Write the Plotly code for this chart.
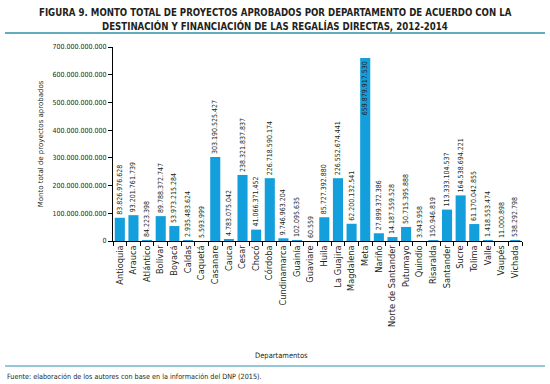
import plotly.graph_objects as go

departamentos = ["Antioquia", "Arauca", "Atlántico", "Bolívar", "Boyacá", "Caldas", "Caquetá",
                 "Casanare", "Cauca", "Cesar", "Chocó", "Córdoba", "Cundinamarca", "Guainía",
                 "Guaviare", "Huila", "La Guajira", "Magdalena", "Meta", "Nariño",
                 "Norte de Santander", "Putumayo", "Quindío", "Risaralda", "Santander", "Sucre",
                 "Tolima", "Valle", "Vaupés", "Vichada"]
montos = [83826976628, 93201761739, 84223398, 89788372747, 53973215284, 2935483624, 5593999,
          303190525427, 4783075042, 238321837837, 41066371452, 226718590174, 9746963204, 102095635,
          60559, 85727392880, 226552674441, 62200132541, 659879917530, 27899372386,
          14187559528, 50715395888, 3943958, 150946819, 113333104537, 164538694221,
          61170042855, 1418553474, 11000898, 538292798]
yticks = [0, 100e9, 200e9, 300e9, 400e9, 500e9, 600e9, 700e9]

def fmt(v):
    return f"{int(v):,}".replace(",", ".")

labels = [fmt(v) for v in montos]
positions = ["inside" if v > 600e9 else "outside" for v in montos]

COND = "DejaVu Sans Condensed, sans-serif"
WIDE = "DejaVu Sans, sans-serif"
TEAL = "#2f8fa9"
DARK = "#231f20"

W, H = 550, 384
pl, pr, pt, pb = 113, 28, 47, 143
pw, ph = W - pl - pr, H - pt - pb

def px_x(x):
    return (x - pl) / pw

def px_y(y):
    return (H - pb - y) / ph

fig = go.Figure(go.Bar(
    x=departamentos, y=montos, text=labels, textposition=positions,
    textangle=-90, insidetextanchor="end", cliponaxis=False,
    textfont=dict(size=7, color=DARK, family=COND),
    insidetextfont=dict(size=7, color=DARK, family=COND),
    outsidetextfont=dict(size=7, color=DARK, family=COND),
    marker=dict(color="#139fdb", line=dict(width=0)), width=0.74,
))

fig.update_layout(
    width=W, height=H, plot_bgcolor="white", paper_bgcolor="white",
    margin=dict(l=pl, r=pr, t=pt, b=pb), showlegend=False,
    font=dict(family=COND, size=7, color=DARK), separators=",.",
    uniformtext=dict(minsize=7, mode="show"),
    annotations=[
        dict(text="<b>FIGURA 9. MONTO TOTAL DE PROYECTOS APROBADOS POR DEPARTAMENTO DE ACUERDO CON LA</b>",
             x=px_x(W / 2), y=px_y(13), xref="paper", yref="paper", showarrow=False,
             font=dict(size=9.6, color=DARK, family=COND), xanchor="center", yanchor="middle"),
        dict(text="<b>DESTINACIÓN Y FINANCIACIÓN DE LAS REGALÍAS DIRECTAS, 2012-2014</b>",
             x=px_x(W / 2), y=px_y(26), xref="paper", yref="paper", showarrow=False,
             font=dict(size=9.6, color=DARK, family=COND), xanchor="center", yanchor="middle"),
        dict(text="Departamentos", x=px_x(281), y=px_y(355), xref="paper", yref="paper",
             showarrow=False, xanchor="center", yanchor="middle",
             font=dict(size=7.5, color=DARK, family=COND)),
        dict(text="Fuente: elaboración de los autores con base en la información del DNP (2015).",
             x=px_x(5), y=px_y(376), xref="paper", yref="paper", showarrow=False,
             xanchor="left", yanchor="middle",
             font=dict(size=7.2, color=DARK, family=COND)),
    ],
    shapes=[
        dict(type="line", xref="paper", yref="paper", x0=px_x(5), x1=px_x(545),
             y0=px_y(33), y1=px_y(33), line=dict(color=TEAL, width=1.5)),
        dict(type="line", xref="paper", yref="paper", x0=px_x(5), x1=px_x(545),
             y0=px_y(366), y1=px_y(366), line=dict(color=TEAL, width=1.2)),
    ],
)

fig.update_xaxes(
    tickangle=-90, tickfont=dict(size=8.3, family=WIDE, color=DARK), showline=True,
    linecolor="black", linewidth=1, ticks="outside", tickson="boundaries", ticklen=4,
    tickcolor="black", showgrid=False, range=[-0.5, len(departamentos) - 0.5],
)
fig.update_yaxes(
    title=dict(text="Monto total de proyectos aprobados", font=dict(size=7, family=WIDE, color=DARK),
               standoff=8),
    range=[0, 700e9], tickvals=yticks, ticktext=[fmt(v) for v in yticks],
    tickfont=dict(size=7, family=COND, color=DARK), showline=True, linecolor="black", linewidth=1,
    ticks="outside", ticklen=4, tickcolor="black", showgrid=False, zeroline=False,
)

fig.write_html("out.html", config={"displayModeBar": False},
               post_script="document.body.style.margin='0';document.body.style.padding='0';")
